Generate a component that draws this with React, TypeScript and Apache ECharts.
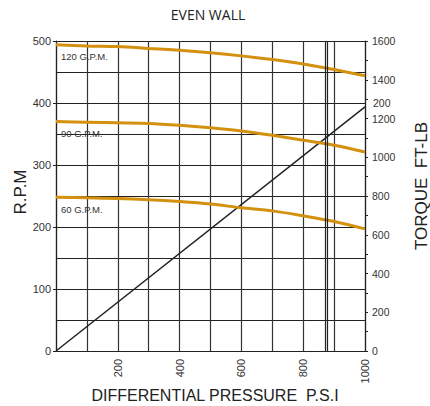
import React, { useEffect, useRef } from "react";
import * as echarts from "echarts";

// Differential pressure (P.S.I) sample points
const pressure = [0, 100, 200, 300, 400, 500, 600, 700, 800, 900, 1000];

// Motor speed (R.P.M) at each flow rate
const rpm120 = [494, 492, 491, 488, 485, 481, 476, 470, 463, 454, 444];
const rpm90 = [370, 369, 368, 367, 364, 360, 355, 348, 340, 332, 321];
const rpm60 = [248, 247, 246, 244, 241, 237, 231, 226, 218, 209, 197];

// Output torque (FT-LB) line endpoints
const torquePressure = [0, 1000];
const torqueValues = [0, 1260];

// Maximum recommended differential pressure markers
const limitLines = [872, 877];

const flowNames = ["120 G.P.M.", "90 G.P.M.", "60 G.P.M."];
const torqueEndNote = "200";

const ORANGE = "#D4900F";
const INK = "#222";
const AXIS_FONT = "'Liberation Sans', Arial, sans-serif";

function flowSeries(name: string, values: number[]) {
  return {
    name,
    type: "line",
    xAxisIndex: 0,
    yAxisIndex: 0,
    data: pressure.map((p, i) => [p, values[i]]),
    smooth: 0.3,
    symbol: "none",
    lineStyle: { color: ORANGE, width: 3 },
    z: 4,
    markPoint: {
      symbol: "circle",
      symbolSize: 0,
      silent: true,
      data: [
        {
          coord: [pressure[0], values[0]],
          label: {
            show: true,
            formatter: name,
            position: "right",
            distance: 5,
            offset: [0, 12],
            fontSize: 9.5,
            color: "#333",
            fontFamily: AXIS_FONT,
          },
        },
      ],
    },
  };
}

export default function App() {
  const ref = useRef<HTMLDivElement>(null);

  useEffect(() => {
    if (!ref.current) return;
    const chart = echarts.init(ref.current, undefined, { renderer: "svg" });
    chart.setOption({
      animation: false,
      backgroundColor: "#fff",
      grid: { left: 56, right: 65, top: 41, bottom: 55, containLabel: false },
      xAxis: {
        type: "value",
        min: 0,
        max: 1000,
        interval: 200,
        axisLine: { show: true, onZero: false, lineStyle: { color: INK, width: 1.2 } },
        axisTick: { show: false },
        axisLabel: {
          rotate: 90,
          margin: 8,
          fontSize: 11,
          color: "#333",
          fontFamily: AXIS_FONT,
          formatter: (v: number) => (v === 0 ? "" : String(v)),
        },
        splitLine: { show: true, lineStyle: { color: "#333", width: 1.2 } },
        minorTick: { show: false, splitNumber: 2 },
        minorSplitLine: { show: true, lineStyle: { color: "#333", width: 1.2 } },
      },
      yAxis: [
        {
          type: "value",
          min: 0,
          max: 500,
          interval: 100,
          position: "left",
          axisLine: { show: true, lineStyle: { color: INK, width: 1.2 } },
          axisTick: { show: true, length: 3, lineStyle: { color: INK } },
          axisLabel: {
            margin: 5,
            fontSize: 11,
            color: "#333",
            fontFamily: AXIS_FONT,
            formatter: (v: number) => String(v),
          },
          splitLine: { show: true, lineStyle: { color: "#222", width: 1 } },
          minorTick: { show: false, splitNumber: 2 },
          minorSplitLine: { show: true, lineStyle: { color: "#222", width: 1 } },
        },
        {
          type: "value",
          min: 0,
          max: 1600,
          interval: 200,
          position: "right",
          axisLine: { show: true, lineStyle: { color: INK, width: 1.2 } },
          axisTick: { show: true, inside: false, length: 3, lineStyle: { color: INK } },
          minorTick: { show: true, splitNumber: 2, length: 3, lineStyle: { color: INK } },
          axisLabel: {
            margin: 7,
            fontSize: 10.5,
            color: "#333",
            fontFamily: AXIS_FONT,
            formatter: (v: number) => String(v),
          },
          splitLine: { show: false },
        },
      ],
      series: [
        flowSeries(flowNames[0], rpm120),
        flowSeries(flowNames[1], rpm90),
        flowSeries(flowNames[2], rpm60),
        {
          name: "torque",
          type: "line",
          xAxisIndex: 0,
          yAxisIndex: 1,
          data: torquePressure.map((p, i) => [p, torqueValues[i]]),
          symbol: "none",
          lineStyle: { color: INK, width: 1.5 },
          z: 3,
          markPoint: {
            symbol: "circle",
            symbolSize: 0,
            silent: true,
            data: [
              {
                coord: [torquePressure[1], torqueValues[1]],
                label: {
                  show: true,
                  formatter: torqueEndNote,
                  position: "right",
                  distance: 8,
                  offset: [0, -4],
                  fontSize: 10.5,
                  color: "#333",
                  fontFamily: AXIS_FONT,
                },
              },
            ],
          },
          markLine: {
            silent: true,
            symbol: "none",
            label: { show: false },
            lineStyle: { color: INK, width: 1.2, type: "solid" },
            data: limitLines.map((x) => ({ xAxis: x })),
          },
        },
      ],
      graphic: [
        {
          type: "text",
          x: 208,
          y: 14,
          style: {
            text: "EVEN WALL",
            font: "14px 'Open Sans', sans-serif",
            fill: "#222",
            textAlign: "center",
            textVerticalAlign: "middle",
          },
        },
        {
          type: "text",
          x: 20,
          y: 192,
          rotation: Math.PI / 2,
          style: {
            text: "R.P.M",
            font: `17px ${AXIS_FONT}`,
            fill: "#222",
            textAlign: "center",
            textVerticalAlign: "middle",
          },
        },
        {
          type: "text",
          x: 421,
          y: 186,
          rotation: Math.PI / 2,
          style: {
            text: "TORQUE  FT-LB",
            font: `17px ${AXIS_FONT}`,
            fill: "#222",
            textAlign: "center",
            textVerticalAlign: "middle",
          },
        },
        {
          type: "text",
          x: 215,
          y: 395,
          style: {
            text: "DIFFERENTIAL PRESSURE  P.S.I",
            font: `16px ${AXIS_FONT}`,
            fill: "#222",
            textAlign: "center",
            textVerticalAlign: "middle",
          },
        },
      ],
    });
    return () => chart.dispose();
  }, []);

  return (
    <div
      ref={ref}
      style={{ position: "fixed", left: 0, top: 0, width: 430, height: 406, background: "#fff" }}
    />
  );
}
